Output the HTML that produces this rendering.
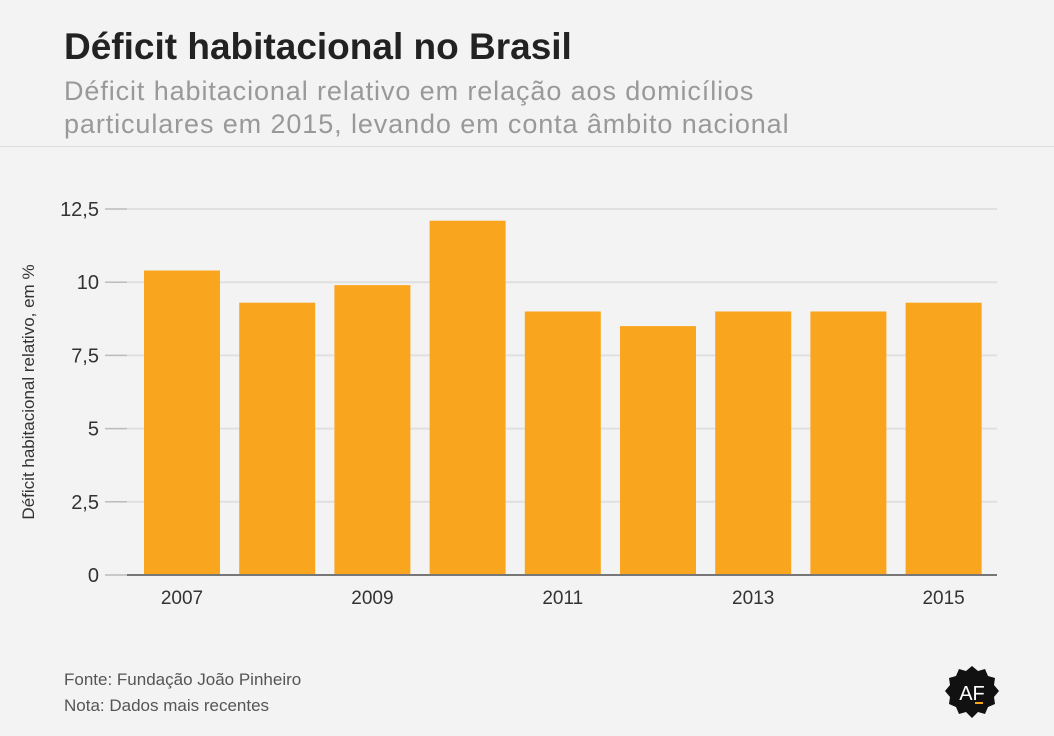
<!DOCTYPE html>
<html><head><meta charset="utf-8"><style>
body{margin:0;width:1054px;height:736px;background:#f3f3f3;font-family:"Liberation Sans",sans-serif;overflow:hidden;position:relative}
.t{position:absolute;left:64px;top:26px;font-size:37px;font-weight:bold;color:#222;letter-spacing:0px}
.s{position:absolute;left:64px;top:75px;font-size:27px;line-height:33px;color:#999;letter-spacing:0.9px}
.hr{position:absolute;left:0;top:146px;width:1054px;height:1px;background:#ddd}
.f{position:absolute;left:64px;font-size:17px;color:#555}
</style></head><body>
<div class="t">Déficit habitacional no Brasil</div>
<div class="s">Déficit habitacional relativo em relação aos domicílios<br>particulares em 2015, levando em conta âmbito nacional</div>
<div class="hr"></div>
<svg id="c" width="1054" height="736" style="position:absolute;left:0;top:0"></svg>
<div class="f" style="top:670px">Fonte: Fundação João Pinheiro</div>
<div class="f" style="top:696px">Nota: Dados mais recentes</div>
<svg width="60" height="60" style="position:absolute;left:942px;top:662px" viewBox="0 0 60 60">
<path d="M30 4 L36 9 L43 7 L46 14 L53 16 L52 23 L57 29 L52 35 L53 42 L46 45 L43 52 L36 50 L30 56 L24 50 L17 52 L14 45 L7 42 L8 35 L3 29 L8 23 L7 16 L14 14 L17 7 L24 9 Z" fill="#111"/>
<text x="30" y="38" text-anchor="middle" font-size="20" fill="#fff" font-family="Liberation Sans">AF</text>
<rect x="33" y="40" width="8" height="2" fill="#f9a61e"/>
</svg>
<script>
const years=["2007","2008","2009","2010","2011","2012","2013","2014","2015"];
const values=[10.4,9.3,9.9,12.1,9.0,8.5,9.0,9.0,9.3];
const ticks=[0,2.5,5,7.5,10,12.5];
const tickLabels=["0","2,5","5","7,5","10","12,5"];
const xLabelYears=["2007","2009","2011","2013","2015"];
const svg=document.getElementById('c');const NS='http://www.w3.org/2000/svg';
const y0=575,pxu=366/12.5,x0=134,step=95.2,bw=76;
const y=v=>y0-v*pxu;const x=i=>x0+10+i*step;
function mk(t,a){const e=document.createElementNS(NS,t);for(const k in a)e.setAttribute(k,a[k]);svg.appendChild(e);return e;}
ticks.forEach((v,i)=>{
 if(v>0){const g=mk('line',{x1:127,x2:997,y1:y(v),y2:y(v),stroke:'#e0e0e0','stroke-width':2});
 
 }
 const tm=mk('line',{x1:105,x2:127,y1:y(v),y2:y(v),stroke:'#bbb','stroke-width':1.5});
 
 
 const t=mk('text',{x:99,y:y(v)+7,'text-anchor':'end','font-size':20,fill:'#333'});t.textContent=tickLabels[i];
 
 
});
values.forEach((v,i)=>{
 const r=mk('rect',{x:x(i),y:y(v),width:bw,height:y0-y(v),fill:'#f9a61e'});
 
 
 if(xLabelYears.includes(years[i])){const t=mk('text',{x:x(i)+bw/2,y:604,'text-anchor':'middle','font-size':19,fill:'#333'});t.textContent=years[i];
 
 }
});
const ax=mk('line',{x1:127,x2:997,y1:y0,y2:y0,stroke:'#777','stroke-width':2});


const yt=mk('text',{x:0,y:0,transform:'translate(34,392) rotate(-90)','text-anchor':'middle','font-size':17,fill:'#333'});
yt.textContent='Déficit habitacional relativo, em %';


</script>
</body></html>
